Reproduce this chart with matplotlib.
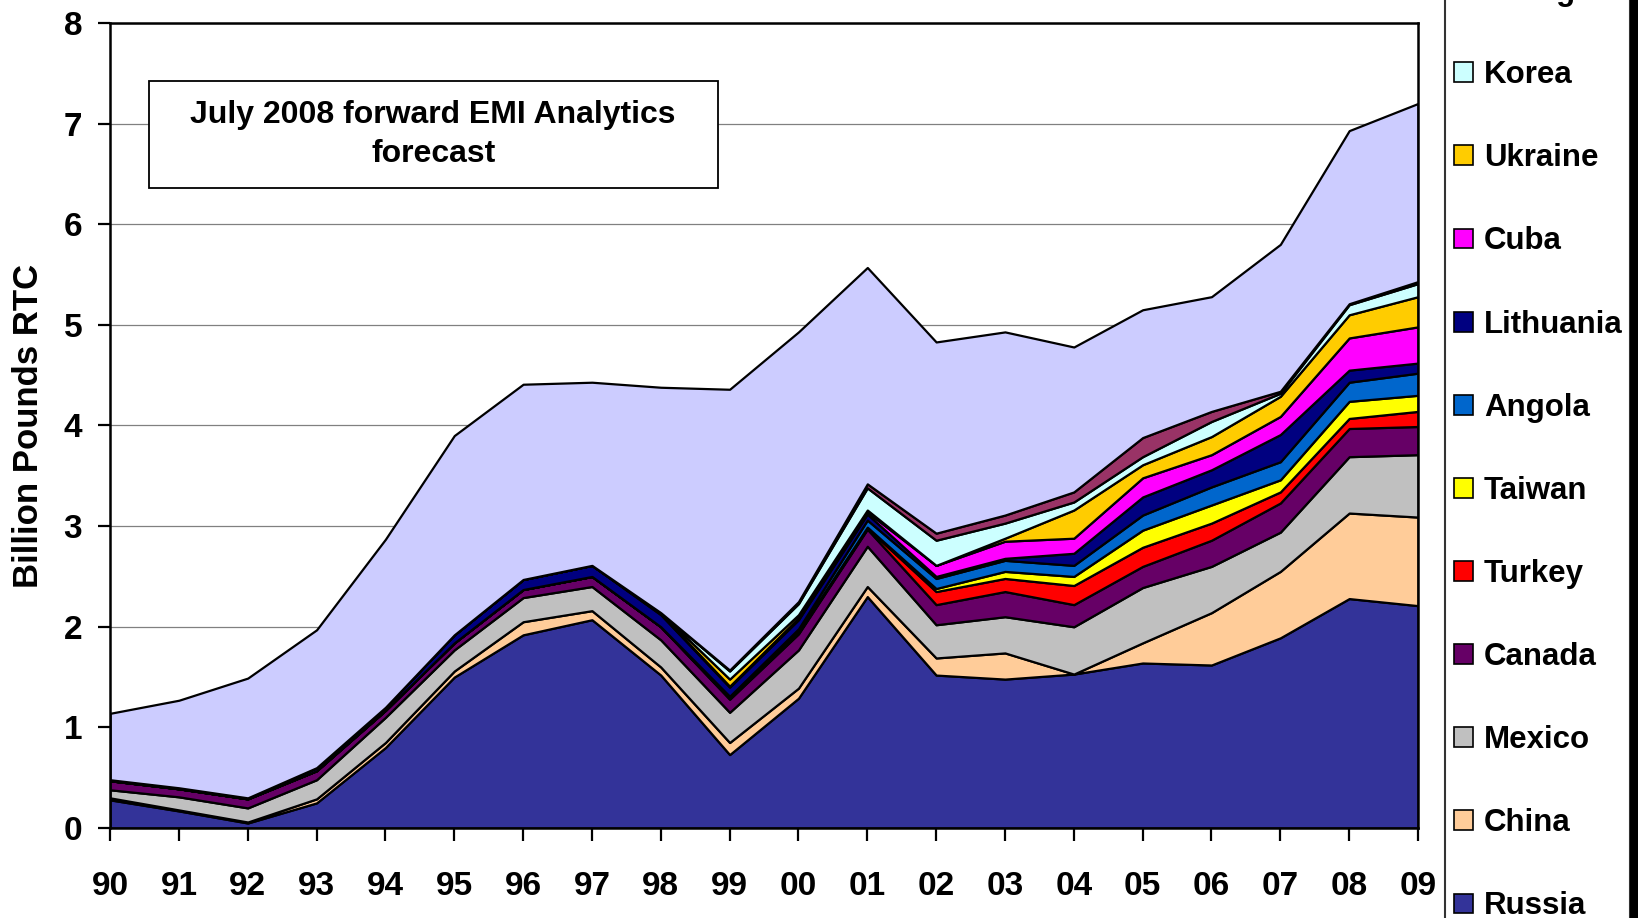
import numpy as np
import matplotlib
matplotlib.use("Agg")
import matplotlib.pyplot as plt
from matplotlib.patches import Patch, Rectangle

plt.rcParams['font.family'] = ['Liberation Sans', 'DejaVu Sans']
plt.rcParams['font.weight'] = 'bold'

# ── Data (billion pounds RTC) ─────────────────────────────────────────────────
years = ['90', '91', '92', '93', '94', '95', '96', '97', '98', '99',
         '00', '01', '02', '03', '04', '05', '06', '07', '08', '09']

russia    = [0.28, 0.17, 0.05, 0.25, 0.80, 1.50, 1.92, 2.07, 1.52, 0.73,
             1.29, 2.30, 1.52, 1.48, 1.53, 1.64, 1.62, 1.89, 2.28, 2.21]
china     = [0.02, 0.01, 0.01, 0.04, 0.05, 0.06, 0.13, 0.09, 0.08, 0.12,
             0.10, 0.10, 0.17, 0.26, 0.00, 0.20, 0.52, 0.66, 0.85, 0.88]
mexico    = [0.08, 0.13, 0.14, 0.19, 0.25, 0.21, 0.24, 0.24, 0.27, 0.30,
             0.38, 0.40, 0.33, 0.36, 0.47, 0.55, 0.46, 0.39, 0.56, 0.62]
canada    = [0.09, 0.08, 0.09, 0.09, 0.07, 0.07, 0.08, 0.10, 0.13, 0.13,
             0.16, 0.17, 0.20, 0.25, 0.22, 0.21, 0.26, 0.29, 0.28, 0.28]
turkey    = [0, 0, 0, 0, 0, 0, 0, 0, 0, 0.01,
             0.01, 0.01, 0.13, 0.13, 0.19, 0.19, 0.17, 0.11, 0.10, 0.15]
taiwan    = [0, 0, 0, 0, 0, 0, 0, 0, 0, 0.01,
             0.01, 0.01, 0.03, 0.07, 0.09, 0.17, 0.18, 0.12, 0.17, 0.16]
angola    = [0, 0, 0, 0, 0, 0, 0, 0, 0, 0.01,
             0.03, 0.07, 0.10, 0.11, 0.11, 0.15, 0.18, 0.18, 0.19, 0.22]
lithuania = [0.01, 0.01, 0.01, 0.03, 0.03, 0.08, 0.10, 0.11, 0.12, 0.09,
             0.09, 0.06, 0.02, 0.02, 0.12, 0.18, 0.17, 0.27, 0.12, 0.10]
cuba      = [0, 0, 0, 0, 0, 0, 0, 0, 0.01, 0.01,
             0.02, 0.02, 0.11, 0.17, 0.15, 0.19, 0.15, 0.18, 0.32, 0.36]
ukraine   = [0, 0, 0, 0, 0, 0, 0, 0, 0.01, 0.07,
             0.03, 0.02, 0.00, 0.03, 0.28, 0.13, 0.18, 0.20, 0.23, 0.30]
korea     = [0, 0, 0, 0, 0, 0, 0, 0, 0, 0.08,
             0.11, 0.22, 0.25, 0.15, 0.08, 0.08, 0.15, 0.03, 0.10, 0.13]
georgia   = [0, 0, 0, 0, 0, 0, 0, 0, 0, 0.01,
             0.02, 0.04, 0.07, 0.08, 0.10, 0.19, 0.10, 0.02, 0.01, 0.02]
other     = [0.66, 0.87, 1.19, 1.37, 1.67, 1.98, 1.94, 1.82, 2.24, 2.79,
             2.68, 2.15, 1.90, 1.82, 1.44, 1.27, 1.14, 1.46, 1.72, 1.77]

series = [russia, china, mexico, canada, turkey, taiwan, angola,
          lithuania, cuba, ukraine, korea, georgia, other]
labels = ['Russia', 'China', 'Mexico', 'Canada', 'Turkey', 'Taiwan', 'Angola',
          'Lithuania', 'Cuba', 'Ukraine', 'Korea', 'Georgia', 'Other']
colors = ['#333399', '#FFCC99', '#C0C0C0', '#660066', '#FF0000', '#FFFF00',
          '#0066CC', '#000080', '#FF00FF', '#FFCC00', '#CCFFFF', '#993366',
          '#CCCCFF']

x = np.arange(len(years))

# ── Plot ──────────────────────────────────────────────────────────────────────
fig = plt.figure(figsize=(16.38, 9.18), dpi=100)
fig.patch.set_facecolor('white')
ax = fig.add_axes([0.0672, 0.098, 0.7985, 0.877])

ax.stackplot(x, *series, colors=colors, edgecolor='black', linewidth=1.6,
             zorder=2)

ax.set_xlim(0, 19)
ax.set_ylim(0, 8)
ax.set_yticks(range(0, 9))
ax.set_xticks(x)
ax.set_xticklabels(years)
ax.yaxis.grid(True, color='#808080', linewidth=0.9, zorder=0)
ax.set_axisbelow(True)

for spine in ax.spines.values():
    spine.set_linewidth(1.8)
    spine.set_color('black')
    spine.set_zorder(5)

ax.tick_params(axis='both', direction='out', length=9, width=1.6,
               labelsize=24, colors='black')
ax.tick_params(axis='y', pad=11)
ax.tick_params(axis='x', pad=22)
for lab in ax.get_xticklabels() + ax.get_yticklabels():
    lab.set_fontweight('bold')

ax.set_ylabel('Billion Pounds RTC', fontsize=25, fontweight='bold')
ax.yaxis.set_label_coords(-0.05, 0.5)

# forecast note box
ax.add_patch(Rectangle((0.0298, 0.795), 0.435, 0.133, transform=ax.transAxes,
                       facecolor='white', edgecolor='black', linewidth=1.3,
                       zorder=6))
ax.text(0.247, 0.861, 'July 2008 forward EMI Analytics\nforecast',
        transform=ax.transAxes, ha='center', va='center', fontsize=23,
        fontweight='bold', linespacing=1.4, zorder=7)

# legend (top entries run off the figure, as in the original)
handles = [Patch(facecolor=c, edgecolor='black', linewidth=1.2) for c in colors]
leg = fig.legend(handles[::-1], labels[::-1], loc='lower left',
                 bbox_to_anchor=(1445 / 1638, -0.014, (1630 - 1445) / 1638, 0.5),
                 mode='expand', fontsize=22.5, frameon=True, fancybox=False,
                 edgecolor='black', handlelength=0.6, handleheight=0.6,
                 handletextpad=0.35, labelspacing=1.70, borderpad=0.3,
                 borderaxespad=0)
leg.get_frame().set_linewidth(1.5)
for t in leg.get_texts():
    t.set_fontweight('bold')

# black edge bar at right
fig.add_artist(Rectangle((1630 / 1638, 0), 8 / 1638, 1, transform=fig.transFigure,
                         facecolor='black', edgecolor='none'))

fig.savefig('out.png', dpi=100, facecolor='white')
